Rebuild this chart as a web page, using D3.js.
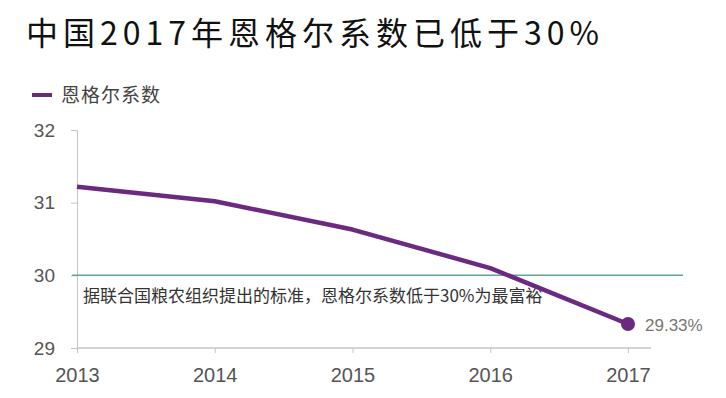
<!DOCTYPE html>
<html>
<head>
<meta charset="utf-8">
<script src="https://cdn.jsdelivr.net/npm/d3@7"></script>
<style>
  body { margin: 0; background: #fff; }
  text { font-family: "Noto Sans CJK SC", "Liberation Sans", sans-serif; }
</style>
</head>
<body>
<svg id="chart" width="726" height="398"></svg>
<script>
// data
const years = [2013, 2014, 2015, 2016, 2017];
const engel = [31.22, 31.02, 30.63, 30.1, 29.33];
const yTicks = [29, 30, 31, 32];
const threshold = 30;
const titleText = "中国2017年恩格尔系数已低于30%";
const seriesName = "恩格尔系数";
const noteText = "据联合国粮农组织提出的标准，恩格尔系数低于30%为最富裕";

const purple = "#6b2a80";
const svg = d3.select("#chart");

const x = d3.scalePoint().domain(years).range([77, 628]);
const y = d3.scaleLinear().domain([29, 32]).range([348, 130]);

// title + legend
svg.append("text").attr("x", 26).attr("y", 45)
  .attr("font-size", 32).attr("letter-spacing", 5).attr("fill", "#111").text(titleText);
svg.append("line").attr("x1", 32).attr("x2", 52).attr("y1", 95).attr("y2", 95)
  .attr("stroke", purple).attr("stroke-width", 4);
svg.append("text").attr("x", 61).attr("y", 102)
  .attr("font-size", 19).attr("letter-spacing", 1).attr("fill", "#444").text(seriesName);

// y axis
const yAxis = svg.append("g").attr("transform", "translate(77,0)")
  .call(d3.axisLeft(y).tickValues(yTicks).tickFormat(d3.format("d")).tickSize(6).tickPadding(16));
yAxis.select(".domain").attr("stroke", "#c4c4c4");
yAxis.selectAll(".tick line").attr("stroke", "#c4c4c4");
yAxis.selectAll("text").attr("font-size", 19).attr("fill", "#555")
  .style("font-family", "'Liberation Sans', sans-serif");

// x axis
const xAxis = svg.append("g").attr("transform", "translate(0,348)")
  .call(d3.axisBottom(x).tickSize(5).tickSizeOuter(0).tickPadding(15));
xAxis.select(".domain").attr("d", "M77,0H651").attr("stroke", "#c4c4c4").attr("stroke-width", 1.5);
xAxis.selectAll(".tick line").attr("stroke", "#c4c4c4");
xAxis.selectAll("text").attr("font-size", 20).attr("fill", "#555")
  .style("font-family", "'Liberation Sans', sans-serif");

// 30% reference line
svg.append("line").attr("x1", 72).attr("x2", 683)
  .attr("y1", y(threshold)).attr("y2", y(threshold))
  .attr("stroke", "#5fa898").attr("stroke-width", 1.5);
svg.append("text").attr("x", 83).attr("y", y(threshold) + 27)
  .attr("font-size", 17).attr("fill", "#333").text(noteText);

// series
const pts = years.map((yr, i) => [x(yr), y(engel[i])]);
svg.append("path").attr("d", d3.line()(pts))
  .attr("fill", "none").attr("stroke", purple).attr("stroke-width", 4.5)
  .attr("stroke-linejoin", "round");

const last = pts[pts.length - 1];
svg.append("circle").attr("cx", last[0]).attr("cy", last[1]).attr("r", 7).attr("fill", purple);
svg.append("text").attr("x", last[0] + 17).attr("y", last[1] + 7)
  .attr("font-size", 17).attr("fill", "#777")
  .style("font-family", "'Liberation Sans', sans-serif")
  .text(engel[engel.length - 1].toFixed(2) + "%");
</script>
</body>
</html>
